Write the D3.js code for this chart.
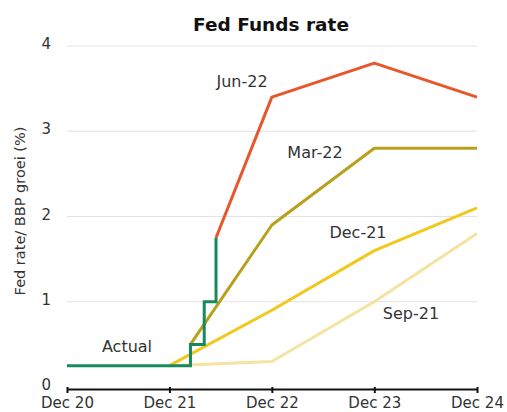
<!DOCTYPE html>
<html>
<head>
<meta charset="utf-8">
<script src="https://cdn.jsdelivr.net/npm/d3@7"></script>
<style>
  body { margin: 0; background: #fff; }
  svg { display: block; font-family: "DejaVu Sans", sans-serif; }
</style>
</head>
<body>
<div id="chart"></div>
<script>
// tick labels
var tickDates = ["2020-12-31", "2021-12-31", "2022-12-31", "2023-12-31", "2024-12-31"]
var tickLabels = ["Dec 20", "Dec 21", "Dec 22", "Dec 23", "Dec 24"]
var yTicks = [0, 1, 2, 3, 4]

// actual fed funds rate (upper bound), step changes
var actualDates = ["2020-12-31", "2022-03-16", "2022-05-04", "2022-06-15"]
var actualValues = [0.25, 0.5, 1.0, 1.75]

// FOMC projections
var jun22Dates = ["2022-06-15", "2022-12-31", "2023-12-31", "2024-12-31"]
var jun22Values = [1.75, 3.4, 3.8, 3.4]
var mar22Dates = ["2022-03-16", "2022-12-31", "2023-12-31", "2024-12-31"]
var mar22Values = [0.5, 1.9, 2.8, 2.8]
var dec21Dates = ["2021-12-31", "2022-12-31", "2023-12-31", "2024-12-31"]
var dec21Values = [0.25, 0.9, 1.6, 2.1]
var sep21Dates = ["2021-12-31", "2022-12-31", "2023-12-31", "2024-12-31"]
var sep21Values = [0.25, 0.3, 1.0, 1.8]

var parse = d3.timeParse("%Y-%m-%d")

function toPoints(dates, values) {
  return dates.map(function(d, i) { return {date: parse(d), value: values[i]} })
}

var W = 507, H = 412
var margin = {top: 46, right: 30, bottom: 25, left: 67}

var svg = d3.select("#chart").append("svg")
    .attr("width", W)
    .attr("height", H)

var x = d3.scaleTime()
    .domain([parse(tickDates[0]), parse(tickDates[tickDates.length - 1])])
    .range([margin.left, W - margin.right])

var y = d3.scaleLinear()
    .domain([0, 4])
    .range([387, margin.top])

// title
svg.append("text")
    .attr("x", 271)
    .attr("y", 31)
    .attr("text-anchor", "middle")
    .attr("font-weight", "bold")
    .attr("font-size", 18.5)
    .attr("fill", "#111")
    .text("Fed Funds rate")

// grid
svg.append("g")
  .selectAll("line")
  .data(yTicks.slice(1))
  .enter()
  .append("line")
    .attr("x1", x.range()[0])
    .attr("x2", x.range()[1])
    .attr("y1", function(d) { return y(d) })
    .attr("y2", function(d) { return y(d) })
    .attr("stroke", "#e2e2e2")
    .attr("stroke-width", 1)

// y tick labels
svg.append("g")
  .selectAll("text")
  .data(yTicks)
  .enter()
  .append("text")
    .attr("x", 51)
    .attr("y", function(d) { return y(d) + 3 })
    .attr("text-anchor", "end")
    .attr("font-size", 15)
    .attr("fill", "#333")
    .text(function(d) { return d })

// y axis title
svg.append("text")
    .attr("transform", "translate(25,211) rotate(-90)")
    .attr("text-anchor", "middle")
    .attr("font-size", 14.5)
    .attr("fill", "#333")
    .text("Fed rate/ BBP groei (%)")

// x axis
var xAxis = svg.append("g")
    .attr("transform", "translate(0,389)")
    .call(d3.axisBottom(x)
      .tickValues(tickDates.map(parse))
      .tickSize(4)
      .tickSizeOuter(0)
      .tickFormat(function(d, i) { return tickLabels[i] }))

xAxis.select(".domain").attr("stroke", "#111").attr("stroke-width", 2)
xAxis.selectAll(".tick line").attr("stroke", "#111").attr("stroke-width", 2).attr("y1", -2)
xAxis.selectAll(".tick text")
    .attr("y", 19)
    .attr("dy", 0)
    .attr("font-family", "DejaVu Sans, sans-serif")
    .attr("font-size", 15)
    .attr("fill", "#333")

var line = d3.line()
    .x(function(d) { return x(d.date) })
    .y(function(d) { return y(d.value) })

var series = [
  {pts: toPoints(sep21Dates, sep21Values), color: "#f5e3a1"},
  {pts: toPoints(dec21Dates, dec21Values), color: "#f1c81c"},
  {pts: toPoints(mar22Dates, mar22Values), color: "#b8a01d"},
  {pts: toPoints(jun22Dates, jun22Values), color: "#e8562b"}
]

series.forEach(function(s) {
  svg.append("path")
      .datum(s.pts)
      .attr("fill", "none")
      .attr("stroke", s.color)
      .attr("stroke-width", 3)
      .attr("stroke-linejoin", "round")
      .attr("d", line)
})

// actual, drawn on top as steps
var actualPts = toPoints(actualDates, actualValues)
svg.append("path")
    .datum(actualPts)
    .attr("fill", "none")
    .attr("stroke", "#168a5e")
    .attr("stroke-width", 3)
    .attr("d", line.curve(d3.curveStepAfter))

// series labels
var labels = [
  {text: "Jun-22", x: 242, y: 87},
  {text: "Mar-22", x: 315, y: 158},
  {text: "Dec-21", x: 358, y: 238},
  {text: "Sep-21", x: 411, y: 319},
  {text: "Actual", x: 127, y: 352}
]
svg.append("g")
  .selectAll("text")
  .data(labels)
  .enter()
  .append("text")
    .attr("x", function(d) { return d.x })
    .attr("y", function(d) { return d.y })
    .attr("text-anchor", "middle")
    .attr("font-size", 16)
    .attr("fill", "#333")
    .text(function(d) { return d.text })
</script>
</body>
</html>
